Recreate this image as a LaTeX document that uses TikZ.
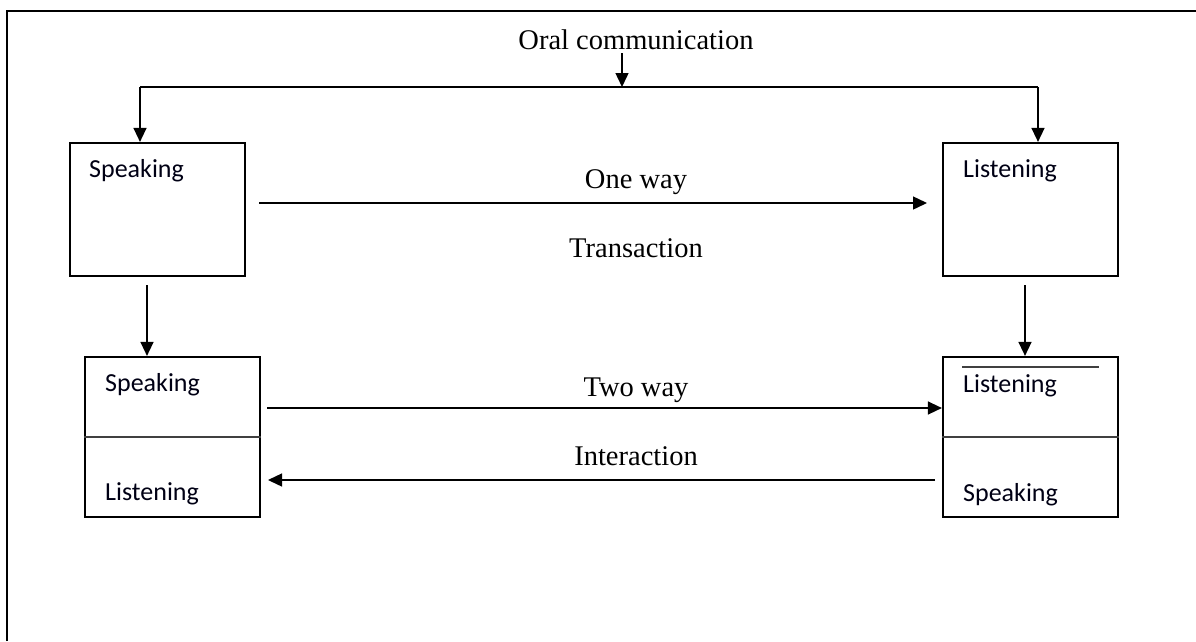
\documentclass[tikz,border=0pt]{standalone}
\usepackage{fontspec}
\setmainfont{Liberation Serif}
\newfontfamily\calib{Carlito}
\usetikzlibrary{arrows.meta}
\begin{document}
\begin{tikzpicture}[x=1pt,y=-1pt,
  box/.style={draw, line width=2.2pt, rectangle, inner sep=0pt, minimum width=175pt},
  arr/.style={line width=1.4pt, -{Triangle[length=14pt,width=13pt]}},
  conn/.style={line width=2pt},
  ttl/.style={font=\fontsize{28.5}{30}\selectfont, anchor=base, inner sep=0pt},
  lbl/.style={font=\calib\fontsize{26}{28}\selectfont, anchor=base west, inner sep=0pt, text=black!92!blue},
  divider/.style={line width=1.1pt, black!75}]
\useasboundingbox (0,0) rectangle (1196,641);
% frame (top and left only)
\draw[line width=2.6pt] (7,641) -- (7,11) -- (1196,11);
% boxes
\node[box, minimum height=133pt] (s1) at (157.5,209.5) {};
\node[box, minimum height=133pt] (l1) at (1030.5,209.5) {};
\node[box, minimum height=160pt] (s2) at (172.5,437) {};
\node[box, minimum height=160pt] (l2) at (1030.5,437) {};
\draw[divider] (s2.west) -- (s2.east);
\draw[divider] (l2.west) -- (l2.east);
\draw[divider] (962,367) -- (1099,367);
% labels
\node[lbl] (t1) at (89,177) {Speaking};
\node[lbl] (t2) at (963,177) {Listening};
\node[lbl] (t3) at (105,391) {Speaking};
\node[lbl] (t4) at (105,500) {Listening};
\node[lbl] (t5) at (963,392) {Listening};
\node[lbl] (t6) at (963,501) {Speaking};
% titles
\node[ttl] (oral) at (636,49) {Oral communication};
\node[ttl] (ow) at (636,188) {One way};
\node[ttl] (tr) at (636,257) {Transaction};
\node[ttl] (tw) at (636,396) {Two way};
\node[ttl] (ia) at (636,465) {Interaction};
% top connector
\coordinate (os) at (622,53);
\coordinate (om) at (622,87);
\coordinate (tl) at (140,87);
\coordinate (tre) at (1038,87);
\draw[arr] (os) -- (om);
\draw[conn] (tl) -- (tre);
\draw[arr] (tl) -- (tl |- s1.north);
\draw[arr] (tre) -- (tre |- l1.north);
% one way
\coordinate (ow1) at (259,203);
\coordinate (ow2) at (927,203);
\draw[arr] (ow1) -- (ow2);
% down arrows
\coordinate (d1) at (147,285);
\coordinate (d2) at (1025,285);
\draw[arr] (d1) -- (d1 |- s2.north);
\draw[arr] (d2) -- (d2 |- l2.north);
% two way
\coordinate (tw1) at (267,408);
\draw[arr] (tw1) -- (tw1 -| l2.west);
% interaction
\coordinate (ia1) at (935,480);
\coordinate (ia2) at (268,480);
\draw[arr] (ia1) -- (ia2);
\end{tikzpicture}
\end{document}
